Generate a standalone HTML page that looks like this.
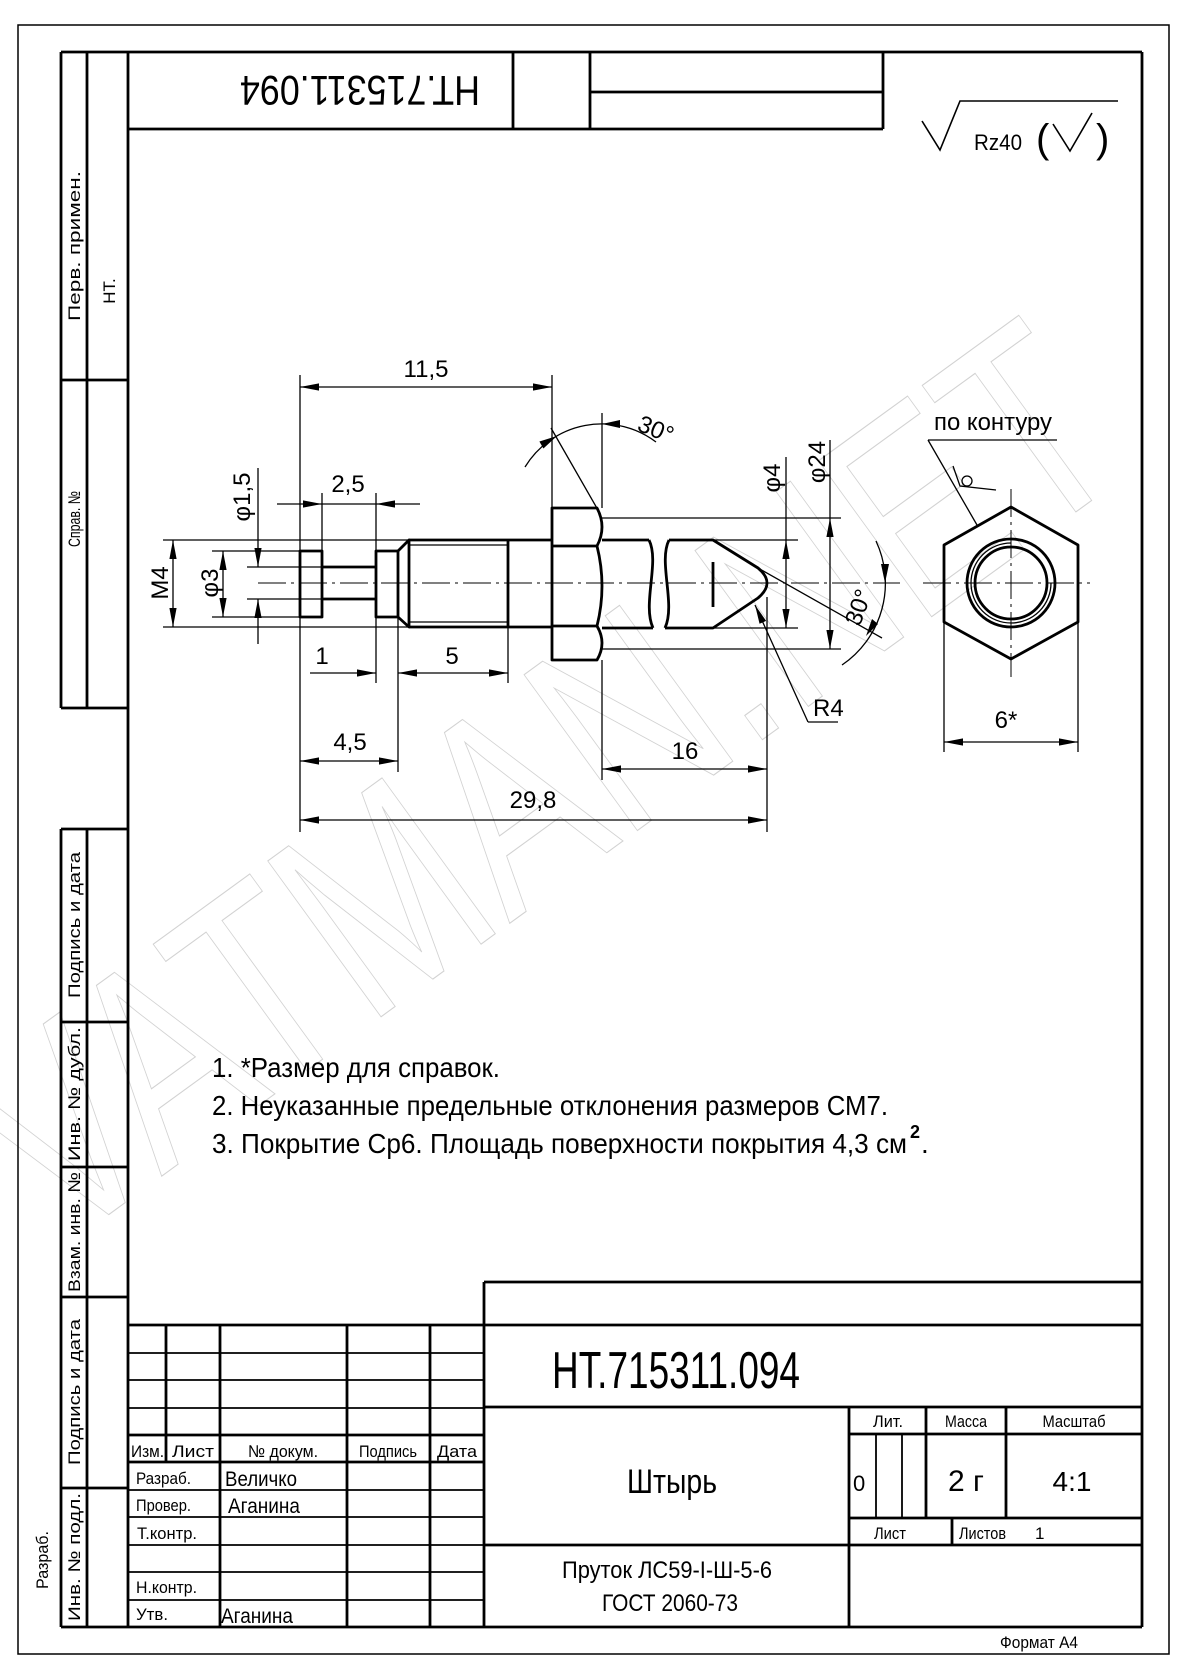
<!DOCTYPE html>
<html><head><meta charset="utf-8">
<style>
html,body{margin:0;padding:0;background:#fff;}
svg{display:block;}
text{font-family:"Liberation Sans","DejaVu Sans",sans-serif;fill:#000;}
</style></head>
<body>
<svg xmlns="http://www.w3.org/2000/svg" width="1188" height="1680" viewBox="0 0 1188 1680">
<defs>
<marker id="a" viewBox="-20 -5 21 10" refX="0" refY="0" markerWidth="21" markerHeight="10" markerUnits="userSpaceOnUse" orient="auto-start-reverse">
<path d="M0,0 L-19,-3.6 L-19,3.6 z" fill="#000"/>
</marker>
</defs>

<!-- watermark -->
<text x="0" y="0" transform="translate(60,1250) rotate(-36)" font-size="280" fill="none" stroke="#d2d2d2" stroke-width="1.1" textLength="1330" lengthAdjust="spacingAndGlyphs" style="fill:none">VATMAN.NET</text>

<!-- outer frame -->
<rect x="18" y="25" width="1151" height="1629" fill="none" stroke="#000" stroke-width="1.5"/>

<g stroke="#000" stroke-width="2.8" fill="none">
<line x1="61" y1="52" x2="1142" y2="52"/>
<line x1="1142" y1="52" x2="1142" y2="1627"/>
<line x1="61" y1="1627" x2="1142" y2="1627"/>
<line x1="128" y1="52" x2="128" y2="1627"/>
<line x1="61" y1="52" x2="61" y2="708"/>
<line x1="87" y1="52" x2="87" y2="708"/>
<line x1="61" y1="380" x2="128" y2="380"/>
<line x1="61" y1="708" x2="128" y2="708"/>
<line x1="61" y1="829" x2="61" y2="1627"/>
<line x1="87" y1="829" x2="87" y2="1627"/>
<line x1="61" y1="829" x2="128" y2="829"/>
<line x1="61" y1="1022" x2="128" y2="1022"/>
<line x1="61" y1="1167" x2="128" y2="1167"/>
<line x1="61" y1="1297" x2="128" y2="1297"/>
<line x1="61" y1="1488" x2="128" y2="1488"/>
<line x1="128" y1="129" x2="883" y2="129"/>
<line x1="883" y1="52" x2="883" y2="129"/>
<line x1="513" y1="52" x2="513" y2="129"/>
<line x1="590" y1="52" x2="590" y2="129"/>
<line x1="590" y1="92" x2="883" y2="92"/>
<line x1="484" y1="1282" x2="1142" y2="1282"/>
<line x1="484" y1="1282" x2="484" y2="1627"/>
<line x1="128" y1="1325" x2="1142" y2="1325"/>
<line x1="484" y1="1407" x2="1142" y2="1407"/>
<line x1="849" y1="1407" x2="849" y2="1627"/>
<line x1="484" y1="1545" x2="1142" y2="1545"/>
<line x1="849" y1="1434" x2="1142" y2="1434"/>
<line x1="849" y1="1518" x2="1142" y2="1518"/>
<line x1="926" y1="1407" x2="926" y2="1518"/>
<line x1="1006" y1="1407" x2="1006" y2="1518"/>
<line x1="952" y1="1518" x2="952" y2="1545"/>
<line x1="166" y1="1325" x2="166" y2="1462"/>
<line x1="220" y1="1325" x2="220" y2="1627"/>
<line x1="347" y1="1325" x2="347" y2="1627"/>
<line x1="430" y1="1325" x2="430" y2="1627"/>
<line x1="128" y1="1435" x2="484" y2="1435"/>
<line x1="128" y1="1462" x2="484" y2="1462"/>
</g>
<g stroke="#000" stroke-width="1.8">
<line x1="876" y1="1434" x2="876" y2="1518"/>
<line x1="902" y1="1434" x2="902" y2="1518"/>
<line x1="128" y1="1353" x2="484" y2="1353"/>
<line x1="128" y1="1380" x2="484" y2="1380"/>
<line x1="128" y1="1408" x2="484" y2="1408"/>
<line x1="128" y1="1490" x2="484" y2="1490"/>
<line x1="128" y1="1517" x2="484" y2="1517"/>
<line x1="128" y1="1545" x2="484" y2="1545"/>
<line x1="128" y1="1572" x2="484" y2="1572"/>
<line x1="128" y1="1600" x2="484" y2="1600"/>
</g>

<g font-size="17">
<text x="80" y="246" text-anchor="middle" transform="rotate(-90 80 246)" textLength="150" lengthAdjust="spacingAndGlyphs">Перв. примен.</text>
<text x="115" y="291" text-anchor="middle" transform="rotate(-90 115 291)">НТ.</text>
<text x="80" y="519" text-anchor="middle" transform="rotate(-90 80 519)" textLength="56" lengthAdjust="spacingAndGlyphs">Справ. №</text>
<text x="80" y="925" text-anchor="middle" transform="rotate(-90 80 925)" textLength="146" lengthAdjust="spacingAndGlyphs">Подпись и дата</text>
<text x="80" y="1094" text-anchor="middle" transform="rotate(-90 80 1094)" textLength="134" lengthAdjust="spacingAndGlyphs">Инв. № дубл.</text>
<text x="80" y="1232" text-anchor="middle" transform="rotate(-90 80 1232)" textLength="120" lengthAdjust="spacingAndGlyphs">Взам. инв. №</text>
<text x="80" y="1392" text-anchor="middle" transform="rotate(-90 80 1392)" textLength="146" lengthAdjust="spacingAndGlyphs">Подпись и дата</text>
<text x="80" y="1557" text-anchor="middle" transform="rotate(-90 80 1557)" textLength="128" lengthAdjust="spacingAndGlyphs">Инв. № подл.</text>
<text x="48" y="1560" text-anchor="middle" transform="rotate(-90 48 1560)" textLength="58" lengthAdjust="spacingAndGlyphs">Разраб.</text>
</g>

<text x="360" y="106" text-anchor="middle" font-size="42" transform="rotate(180 360 91)" textLength="240" lengthAdjust="spacingAndGlyphs">НТ.715311.094</text>

<g stroke="#000" stroke-width="1.6" fill="none">
<path d="M922,121 L940,150 L960,101 L1118,101"/>
<path d="M1053,124 L1070,151 L1092,113"/>
</g>
<text x="974" y="150" font-size="22" textLength="48" lengthAdjust="spacingAndGlyphs">Rz40</text>
<text x="1036" y="152" font-size="40">(</text>
<text x="1096" y="152" font-size="40">)</text>

<g stroke="#000" stroke-width="1" fill="none" stroke-dasharray="28,5,3,5">
<line x1="258" y1="583" x2="900" y2="583"/>
<line x1="923" y1="583" x2="1090" y2="583"/>
<line x1="1011" y1="489" x2="1011" y2="677"/>
</g>

<g stroke="#000" stroke-width="2.8" fill="none" stroke-linejoin="round">
<rect x="300" y="551" width="22" height="66"/>
<line x1="322" y1="567" x2="376" y2="567"/>
<line x1="322" y1="599" x2="376" y2="599"/>
<rect x="376" y="551" width="22" height="66"/>
<path d="M398,551 L409,540 L409,627 L398,617"/>
<line x1="409" y1="540" x2="552" y2="540"/>
<line x1="409" y1="627" x2="552" y2="627"/>
<line x1="508" y1="540" x2="508" y2="627"/>
<path d="M552,508 L597,508 Q607,527 597,546 Q607,586 597,626 Q607,643 597,660 L552,660 Z"/>
<line x1="552" y1="546" x2="597" y2="546"/>
<line x1="552" y1="626" x2="597" y2="626"/>
<line x1="602" y1="540" x2="649" y2="540"/>
<line x1="602" y1="628" x2="653" y2="628"/>
<path d="M649,540 C660,562 642,604 653,628"/>
<path d="M669,540 C658,562 676,604 665,628"/>
<path d="M669,540 L713,540 L758,568 Q776,583 758,598 L713,628 L665,628"/>
<line x1="713" y1="562" x2="713" y2="607"/>
<polygon points="1011,507 1078,545 1078,622 1011,659 944,622 944,545"/>
<circle cx="1011" cy="583" r="44"/>
<circle cx="1011" cy="583" r="36"/>
</g>
<path d="M1051,583 A40,40 0 1 1 1011,543" stroke="#000" stroke-width="1.3" fill="none"/>

<g stroke="#000" stroke-width="1.3" fill="none">
<line x1="409" y1="545" x2="508" y2="545"/>
<line x1="409" y1="622" x2="508" y2="622"/>
<line x1="163" y1="540" x2="409" y2="540"/>
<line x1="163" y1="627" x2="409" y2="627"/>
<line x1="212" y1="551" x2="300" y2="551"/>
<line x1="212" y1="617" x2="300" y2="617"/>
<line x1="247" y1="567" x2="322" y2="567"/>
<line x1="247" y1="599" x2="322" y2="599"/>
<line x1="300" y1="375" x2="300" y2="832"/>
<line x1="552" y1="375" x2="552" y2="508"/>
<line x1="602" y1="413" x2="602" y2="508"/>
<line x1="602" y1="660" x2="602" y2="780"/>
<line x1="322" y1="493" x2="322" y2="551"/>
<line x1="376" y1="493" x2="376" y2="551"/>
<line x1="376" y1="617" x2="376" y2="683"/>
<line x1="398" y1="617" x2="398" y2="772"/>
<line x1="508" y1="627" x2="508" y2="683"/>
<line x1="767" y1="597" x2="767" y2="832"/>
<line x1="713" y1="540" x2="798" y2="540"/>
<line x1="713" y1="628" x2="798" y2="628"/>
<line x1="602" y1="518" x2="841" y2="518"/>
<line x1="602" y1="649" x2="841" y2="649"/>
<line x1="944" y1="622" x2="944" y2="752"/>
<line x1="1078" y1="622" x2="1078" y2="752"/>
<line x1="300" y1="387" x2="552" y2="387" marker-start="url(#a)" marker-end="url(#a)"/>
<line x1="277" y1="504" x2="322" y2="504" marker-end="url(#a)"/>
<line x1="322" y1="504" x2="376" y2="504"/>
<line x1="420" y1="504" x2="376" y2="504" marker-end="url(#a)"/>
<line x1="258" y1="468" x2="258" y2="567" marker-end="url(#a)"/>
<line x1="258" y1="644" x2="258" y2="599" marker-end="url(#a)"/>
<line x1="223" y1="551" x2="223" y2="617" marker-start="url(#a)" marker-end="url(#a)"/>
<line x1="173" y1="540" x2="173" y2="627" marker-start="url(#a)" marker-end="url(#a)"/>
<line x1="310" y1="673" x2="376" y2="673" marker-end="url(#a)"/>
<line x1="398" y1="673" x2="508" y2="673" marker-start="url(#a)" marker-end="url(#a)"/>
<line x1="300" y1="761" x2="398" y2="761" marker-start="url(#a)" marker-end="url(#a)"/>
<line x1="300" y1="820" x2="767" y2="820" marker-start="url(#a)" marker-end="url(#a)"/>
<line x1="602" y1="769" x2="767" y2="769" marker-start="url(#a)" marker-end="url(#a)"/>
<line x1="786" y1="457" x2="786" y2="540"/>
<line x1="786" y1="540" x2="786" y2="628" marker-start="url(#a)" marker-end="url(#a)"/>
<line x1="830" y1="440" x2="830" y2="518"/>
<line x1="830" y1="518" x2="830" y2="649" marker-start="url(#a)" marker-end="url(#a)"/>
<line x1="944" y1="742" x2="1078" y2="742" marker-start="url(#a)" marker-end="url(#a)"/>
<line x1="808" y1="722" x2="755" y2="605" marker-end="url(#a)"/>
<line x1="808" y1="722" x2="838" y2="722"/>
<line x1="551" y1="428" x2="598" y2="510"/>
<path d="M525,467 A90,90 0 0 1 656,442"/>
<line x1="758" y1="568" x2="882" y2="638"/>
<path d="M876,541 A99,99 0 0 1 842,665"/>
<line x1="977" y1="525" x2="928" y2="440"/>
<line x1="928" y1="440" x2="1057" y2="440"/>
<path d="M953,466 L960,486 L996,490"/>
<circle cx="967" cy="481" r="5"/>
</g>
<g fill="#000">
<polygon points="557,436 543.4,448.5 539.4,441.5"/>
<polygon points="602,424 620,420 620,428"/>
<polygon points="885,583 881,564 889,564"/>
<polygon points="866,636 872,619 878,624"/>
</g>

<g font-size="24">
<text x="426" y="377" text-anchor="middle">11,5</text>
<text x="348" y="492" text-anchor="middle">2,5</text>
<text x="250" y="497" text-anchor="middle" transform="rotate(-90 250 497)">φ1,5</text>
<text x="218" y="583" text-anchor="middle" transform="rotate(-90 218 583)">φ3</text>
<text x="168" y="583" text-anchor="middle" transform="rotate(-90 168 583)">M4</text>
<text x="322" y="664" text-anchor="middle">1</text>
<text x="452" y="664" text-anchor="middle">5</text>
<text x="350" y="750" text-anchor="middle">4,5</text>
<text x="533" y="808" text-anchor="middle">29,8</text>
<text x="685" y="759" text-anchor="middle">16</text>
<text x="813" y="716">R4</text>
<text x="780" y="478" text-anchor="middle" transform="rotate(-90 780 478)">φ4</text>
<text x="825" y="462" text-anchor="middle" transform="rotate(-90 825 462)">φ24</text>
<text x="636" y="430" transform="rotate(22 636 430)">30°</text>
<text x="866" y="610" text-anchor="middle" transform="rotate(-70 866 610)">30°</text>
<text x="1006" y="728" text-anchor="middle">6*</text>
<text x="934" y="430" textLength="118" lengthAdjust="spacingAndGlyphs">по контуру</text>
</g>

<g font-size="28">
<text x="212" y="1077" textLength="288" lengthAdjust="spacingAndGlyphs">1. *Размер для справок.</text>
<text x="212" y="1115" textLength="676" lengthAdjust="spacingAndGlyphs">2. Неуказанные предельные отклонения размеров СМ7.</text>
<text x="212" y="1153" textLength="695" lengthAdjust="spacingAndGlyphs">3. Покрытие Ср6. Площадь поверхности покрытия 4,3 см</text>
<text x="910" y="1138" font-size="18" font-weight="bold">2</text>
<text x="921" y="1153">.</text>
</g>

<g font-size="17">
<text x="131" y="1457" textLength="33" lengthAdjust="spacingAndGlyphs">Изм.</text>
<text x="172" y="1457" textLength="42" lengthAdjust="spacingAndGlyphs">Лист</text>
<text x="283" y="1457" text-anchor="middle" textLength="70" lengthAdjust="spacingAndGlyphs">№ докум.</text>
<text x="388" y="1457" text-anchor="middle" textLength="58" lengthAdjust="spacingAndGlyphs">Подпись</text>
<text x="457" y="1457" text-anchor="middle" textLength="40" lengthAdjust="spacingAndGlyphs">Дата</text>
<text x="136" y="1484" textLength="55" lengthAdjust="spacingAndGlyphs">Разраб.</text>
<text x="136" y="1511" textLength="55" lengthAdjust="spacingAndGlyphs">Провер.</text>
<text x="137" y="1539" textLength="60" lengthAdjust="spacingAndGlyphs">Т.контр.</text>
<text x="136" y="1593" textLength="61" lengthAdjust="spacingAndGlyphs">Н.контр.</text>
<text x="136" y="1620" textLength="32" lengthAdjust="spacingAndGlyphs">Утв.</text>
<text x="888" y="1427" text-anchor="middle" textLength="30" lengthAdjust="spacingAndGlyphs">Лит.</text>
<text x="966" y="1427" text-anchor="middle" textLength="42" lengthAdjust="spacingAndGlyphs">Масса</text>
<text x="1074" y="1427" text-anchor="middle" textLength="63" lengthAdjust="spacingAndGlyphs">Масштаб</text>
<text x="890" y="1539" text-anchor="middle" textLength="32" lengthAdjust="spacingAndGlyphs">Лист</text>
<text x="959" y="1539" textLength="47" lengthAdjust="spacingAndGlyphs">Листов</text>
<text x="1035" y="1539">1</text>
<text x="1000" y="1648" textLength="78" lengthAdjust="spacingAndGlyphs">Формат А4</text>
</g>
<g font-size="21">
<text x="225" y="1486" textLength="72" lengthAdjust="spacingAndGlyphs">Величко</text>
<text x="228" y="1513" textLength="72" lengthAdjust="spacingAndGlyphs">Аганина</text>
<text x="221" y="1623" textLength="72" lengthAdjust="spacingAndGlyphs">Аганина</text>
</g>
<text x="552" y="1388" font-size="52" textLength="248" lengthAdjust="spacingAndGlyphs">НТ.715311.094</text>
<text x="672" y="1493" font-size="34" text-anchor="middle" textLength="90" lengthAdjust="spacingAndGlyphs">Штырь</text>
<text x="562" y="1578" font-size="24" textLength="210" lengthAdjust="spacingAndGlyphs">Пруток ЛС59-I-Ш-5-6</text>
<text x="602" y="1611" font-size="24" textLength="136" lengthAdjust="spacingAndGlyphs">ГОСТ 2060-73</text>
<text x="853" y="1491" font-size="22">0</text>
<text x="966" y="1491" font-size="30" text-anchor="middle">2 г</text>
<text x="1072" y="1491" font-size="28" text-anchor="middle">4:1</text>
</svg>
</body></html>
